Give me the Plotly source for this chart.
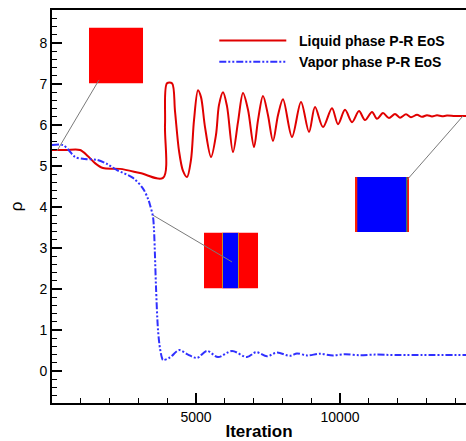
import plotly.graph_objects as go

# Density history of the two phases (Peng-Robinson EoS)
liquid_iter = [0, 486, 972, 1250, 1493, 1771, 2361, 3056, 3854, 3924, 3993, 4167,
               4271, 4410, 4549, 4688, 4826, 4931, 5069, 5174, 5313, 5521, 5694,
               5799, 5938, 6076, 6285, 6458, 6632, 6806, 7014, 7153, 7326, 7500,
               7674, 7847, 8021, 8333, 8646, 8924, 9132, 9410, 9722, 9931, 10174,
               10417, 10660, 10868, 11111, 11285, 11493, 11701, 11910, 12083,
               12292, 12465, 12674, 12847, 13021, 13194, 13368, 13542, 13715,
               13993, 14375]
liquid_rho = [5.39, 5.39, 5.39, 5.24, 5.07, 4.95, 4.93, 4.83, 4.71, 6.00, 7.02, 7.02,
              6.34, 5.37, 4.88, 4.73, 5.15, 6.12, 6.85, 6.68, 5.95, 5.22, 5.76,
              6.49, 6.80, 6.46, 5.34, 6.07, 6.78, 6.37, 5.46, 6.12, 6.71, 6.24,
              5.61, 6.24, 6.63, 5.71, 6.56, 5.83, 6.44, 5.95, 6.41, 6.02, 6.37,
              6.07, 6.34, 6.12, 6.32, 6.15, 6.29, 6.17, 6.27, 6.18,
              6.26, 6.19, 6.25, 6.20, 6.24, 6.21, 6.235, 6.215, 6.23,
              6.22, 6.22]

vapor_iter = [0, 382, 590, 799, 1146, 1563, 1910, 2257, 2813, 3160, 3333, 3403,
              3507, 3542, 3576, 3611, 3681, 3750, 3819, 3854, 4097, 4410, 4722,
              5035, 5382, 5764, 6250, 6771, 7083, 7465, 7813, 8264, 8507, 8854,
              9306, 9757, 10174, 10694, 11215, 11910, 14375]
vapor_rho = [5.51, 5.51, 5.38, 5.22, 5.17, 5.15, 5.05, 4.90, 4.71, 4.45, 4.20, 4.05,
             3.76, 3.44, 2.80, 2.05, 1.00, 0.55, 0.32, 0.27, 0.33, 0.51, 0.40,
             0.32, 0.49, 0.34, 0.49, 0.34, 0.46, 0.36, 0.45, 0.37, 0.43, 0.38,
             0.42, 0.38, 0.41, 0.385, 0.40, 0.39, 0.39]

x_ticks = [5000, 10000]
y_ticks = [0, 1, 2, 3, 4, 5, 6, 7, 8]

FONT = "Arial, Liberation Sans, sans-serif"
RED = "#e00000"
BLUE = "#3030ff"

fig = go.Figure()
fig.add_trace(go.Scatter(
    x=liquid_iter, y=liquid_rho, mode="lines", name="  Liquid phase P-R EoS",
    line=dict(color=RED, width=2, shape="spline", smoothing=0.9),
))
fig.add_trace(go.Scatter(
    x=vapor_iter, y=vapor_rho, mode="lines", name="  Vapor phase P-R EoS",
    line=dict(color=BLUE, width=2, shape="spline", smoothing=0.9,
              dash="7px,2px,2px,2px,2px,2px"),
))

# Phase-field snapshots placed as insets, with leader lines to the curve
shapes = []


def rect(x0, x1, y0, y1, color):
    shapes.append(dict(type="rect", xref="x", yref="y", x0=x0, x1=x1, y0=y0, y1=y1,
                       fillcolor=color, line=dict(width=0), layer="above"))


def leader(x0, y0, x1, y1):
    shapes.append(dict(type="line", xref="x", yref="y", x0=x0, y0=y0, x1=x1, y1=y1,
                       line=dict(color="#7a7a7a", width=1), layer="above"))


# initial state: all liquid
rect(1285, 3160, 7.02, 8.37, "#ff0000")
leader(1632, 7.10, 174, 5.37)

# intermediate state: vapor band in the middle
rect(5278, 7153, 2.02, 3.37, "#ff0000")
rect(5903, 5938, 2.02, 3.37, "#c89020")
rect(5938, 6458, 2.02, 3.37, "#0000ff")
rect(6458, 6493, 2.02, 3.37, "#c89020")
leader(3507, 3.80, 6250, 2.66)

# final state: thin liquid films at the walls
rect(10521, 12396, 3.39, 4.73, "#0000ff")
rect(10521, 10600, 3.39, 4.73, "#ff2000")
rect(12300, 12335, 3.39, 4.73, "#40a040")
rect(12335, 12396, 3.39, 4.73, "#ff2000")
leader(12326, 4.66, 14271, 6.22)

fig.update_layout(
    width=466, height=441,
    margin=dict(l=52, r=0, t=10, b=38),
    paper_bgcolor="white", plot_bgcolor="white",
    font=dict(family=FONT, size=14, color="black"),
    shapes=shapes,
    showlegend=True,
    legend=dict(
        x=0.392, y=0.962, xanchor="left", yanchor="top",
        bgcolor="rgba(0,0,0,0)", borderwidth=0,
        font=dict(family=FONT, size=14, color="black", weight="bold"),
        itemwidth=67, tracegroupgap=0,
    ),
    xaxis=dict(
        range=[0, 14375], showgrid=False, zeroline=False,
        showline=True, linecolor="black", linewidth=2, mirror=True,
        ticks="inside", ticklen=10, tickwidth=2, tickcolor="black",
        tickvals=x_ticks, ticktext=[str(v) for v in x_ticks],
        minor=dict(dtick=1000, ticks="inside", ticklen=5, tickwidth=1,
                   tickcolor="black", showgrid=False),
        title=dict(text="Iteration", standoff=2,
                   font=dict(family=FONT, size=17, weight="bold")),
        tickfont=dict(size=14),
    ),
    yaxis=dict(
        range=[-0.78, 8.805], showgrid=False, zeroline=False,
        showline=True, linecolor="black", linewidth=2,
        ticks="inside", ticklen=10, tickwidth=2, tickcolor="black",
        tickvals=y_ticks, ticktext=[str(v) for v in y_ticks],
        minor=dict(dtick=0.2, ticks="inside", ticklen=5, tickwidth=1,
                   tickcolor="black", showgrid=False),
        title=dict(text="ρ", standoff=12, font=dict(family=FONT, size=17)),
        tickfont=dict(size=14),
    ),
)

fig.write_html("out.html")
